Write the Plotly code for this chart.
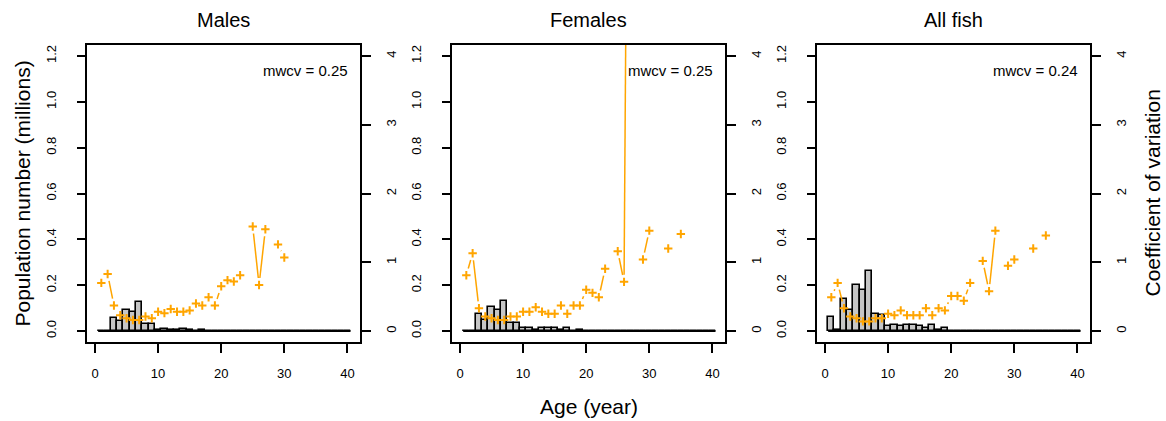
import math
import plotly.graph_objects as go

# ---------------- data ----------------
ages = list(range(1, 41))
males_num = [0, 0, 0.058, 0.042, 0.091, 0.083, 0.126, 0.032, 0.032, 0.004,
             0.010, 0.004, 0.004, 0.010, 0.004, 0.001, 0.006, 0, 0, 0,
             0, 0, 0, 0, 0, 0, 0, 0, 0, 0,
             0, 0, 0, 0, 0, 0, 0, 0, 0, 0]
females_num = [0, 0, 0.076, 0.047, 0.104, 0.091, 0.131, 0.034, 0.034, 0.013,
               0.013, 0.005, 0.013, 0.013, 0.013, 0.005, 0.013, 0, 0.005, 0,
               0, 0, 0, 0, 0, 0, 0, 0, 0, 0,
               0, 0, 0, 0, 0, 0, 0, 0, 0, 0]
all_num = [0.063, 0.005, 0.139, 0.091, 0.200, 0.181, 0.264, 0.076, 0.069, 0.020,
           0.028, 0.020, 0.028, 0.028, 0.020, 0.013, 0.028, 0.005, 0.013, 0,
           0, 0, 0, 0, 0, 0, 0, 0, 0, 0,
           0, 0, 0, 0, 0, 0, 0, 0, 0, 0]

cv_ages = list(range(1, 36))
males_cv = [0.70, 0.83, 0.37, 0.23, 0.185, 0.16, 0.16, 0.21, 0.185, 0.28,
            0.26, 0.32, 0.28, 0.28, 0.30, 0.40, 0.37, 0.49, 0.37, 0.65,
            0.74, 0.72, 0.81, None, 1.52, 0.67, 1.48, None, 1.26, 1.07,
            None, None, None, None, None]
females_cv = [0.81, 1.13, 0.33, 0.21, 0.185, 0.16, 0.16, 0.21, 0.21, 0.28,
              0.28, 0.345, 0.28, 0.25, 0.25, 0.37, 0.25, 0.37, 0.37, 0.60,
              0.555, 0.49, 0.905, None, 1.16, 0.715, 14.0, None, 1.04, 1.46,
              None, None, 1.20, None, 1.41]
all_cv = [0.49, 0.70, 0.33, 0.21, 0.185, 0.14, 0.14, 0.185, 0.185, 0.25,
          0.23, 0.30, 0.23, 0.23, 0.23, 0.33, 0.23, 0.33, 0.30, 0.51,
          0.51, 0.44, 0.70, None, 1.02, 0.58, 1.46, None, 0.95, 1.04,
          None, None, 1.20, None, 1.39]

titles = ["Males", "Females", "All fish"]
mwcv_labels = ["mwcv = 0.25", "mwcv = 0.25", "mwcv = 0.24"]
x_ticks = [0, 10, 20, 30, 40]
pop_ticks = [0.0, 0.2, 0.4, 0.6, 0.8, 1.0, 1.2]
cv_ticks = [0, 1, 2, 3, 4]

nums = [males_num, females_num, all_num]
cvs = [males_cv, females_cv, all_cv]

# ---------------- layout geometry ----------------
W, H = 1166, 421
panel_left = [87, 452, 817]
panel_w = 273
top_px, bot_px = 45, 342
xr = [-1.27, 42.0]
yr_pop = [-0.048, 1.248]
yr_cv = [-0.16, 4.16]
FONT = "Liberation Sans, Arial, sans-serif"
ORANGE = "#FFA500"


def gapped_segments(xs, ys, gap=7.0):
    """Emulate R type='b' lines: segments with a gap around each point."""
    sx = panel_w / (xr[1] - xr[0])
    sy = (bot_px - top_px) / (yr_cv[1] - yr_cv[0])
    lx, ly = [], []
    for i in range(len(xs) - 1):
        y0, y1 = ys[i], ys[i + 1]
        if y0 is None or y1 is None:
            continue
        x0, x1 = xs[i], xs[i + 1]
        L = math.hypot((x1 - x0) * sx, (y1 - y0) * sy)
        if L <= 2 * gap:
            continue
        f = gap / L
        lx += [x0 + f * (x1 - x0), x1 - f * (x1 - x0), None]
        ly += [y0 + f * (y1 - y0), y1 - f * (y1 - y0), None]
    return lx, ly


fig = go.Figure()
layout = dict(
    width=W, height=H, margin=dict(l=0, r=0, t=0, b=0),
    paper_bgcolor="white", plot_bgcolor="white",
    showlegend=False, bargap=0,
    font=dict(family=FONT, color="black", size=13),
)
annotations = []

for i in range(3):
    k = i + 1
    kc = i + 4
    xa = "x" if k == 1 else f"x{k}"
    ya = "y" if k == 1 else f"y{k}"
    yc = f"y{kc}"

    fig.add_trace(go.Bar(
        x=ages, y=nums[i], width=1.0, xaxis=xa, yaxis=ya,
        marker=dict(color="#C6C6C6", line=dict(color="black", width=1.6)),
        hoverinfo="skip",
    ))
    # zero baseline drawn by the zero-height bars in R
    fig.add_trace(go.Scatter(
        x=[ages[0] - 0.5, ages[-1] + 0.5], y=[0, 0], mode="lines",
        line=dict(color="black", width=1.8), xaxis=xa, yaxis=ya,
        hoverinfo="skip",
    ))
    lx, ly = gapped_segments(cv_ages, cvs[i])
    fig.add_trace(go.Scatter(
        x=lx, y=ly, mode="lines", line=dict(color=ORANGE, width=1.5),
        xaxis=xa, yaxis=yc, hoverinfo="skip", connectgaps=False,
    ))
    fig.add_trace(go.Scatter(
        x=cv_ages, y=cvs[i], mode="markers",
        marker=dict(symbol="cross-thin", size=6, line=dict(color=ORANGE, width=2)),
        xaxis=xa, yaxis=yc, hoverinfo="skip", cliponaxis=True,
    ))

    xd = [panel_left[i] / W, (panel_left[i] + panel_w) / W]
    yd = [1 - bot_px / H, 1 - top_px / H]
    common = dict(showgrid=False, zeroline=False, showline=True, linecolor="black",
                  linewidth=1.5, ticks="outside", tickcolor="black", tickwidth=1.5,
                  tickfont=dict(family=FONT, size=13, color="black"))
    layout["xaxis" if k == 1 else f"xaxis{k}"] = dict(
        domain=xd, range=xr, anchor=ya, tickvals=x_ticks,
        ticktext=[str(v) for v in x_ticks], ticklen=9, mirror=True,
        ticklabelstandoff=10, **common)
    layout["yaxis" if k == 1 else f"yaxis{k}"] = dict(
        domain=yd, range=yr_pop, anchor=xa, tickvals=pop_ticks,
        ticktext=[f"{v:.1f}" for v in pop_ticks], ticklen=8, tickangle=-90,
        mirror=True, ticklabelstandoff=16, **common)
    layout[f"yaxis{kc}"] = dict(
        range=yr_cv, overlaying=ya, side="right", anchor=xa, tickvals=cv_ticks,
        ticktext=[str(v) for v in cv_ticks], ticklen=9, tickangle=-90,
        ticklabelstandoff=10, **common)

    cx = (panel_left[i] + panel_w / 2) / W
    annotations.append(dict(text=titles[i], x=cx, y=1 - 20 / H, xref="paper", yref="paper",
                            xanchor="center", yanchor="middle", showarrow=False,
                            font=dict(family=FONT, size=20, color="black")))
    annotations.append(dict(text=mwcv_labels[i], x=(panel_left[i] + panel_w - 10) / W,
                            y=1 - 70 / H, xref="paper", yref="paper",
                            xanchor="right", yanchor="middle", showarrow=False,
                            font=dict(family=FONT, size=15, color="black")))

annotations.append(dict(text="Age (year)", x=(452 + panel_w / 2) / W, y=1 - 406 / H,
                        xref="paper", yref="paper", xanchor="center", yanchor="middle",
                        showarrow=False, font=dict(family=FONT, size=21, color="black")))
annotations.append(dict(text="Population number (millions)", x=22 / W,
                        y=1 - ((top_px + bot_px) / 2) / H, xref="paper", yref="paper",
                        xanchor="center", yanchor="middle", textangle=-90, showarrow=False,
                        font=dict(family=FONT, size=21, color="black")))
annotations.append(dict(text="Coefficient of variation", x=1152 / W,
                        y=1 - ((top_px + bot_px) / 2) / H, xref="paper", yref="paper",
                        xanchor="center", yanchor="middle", textangle=-90, showarrow=False,
                        font=dict(family=FONT, size=21, color="black")))

layout["annotations"] = annotations
fig.update_layout(**layout)
fig.write_html("out.html")
